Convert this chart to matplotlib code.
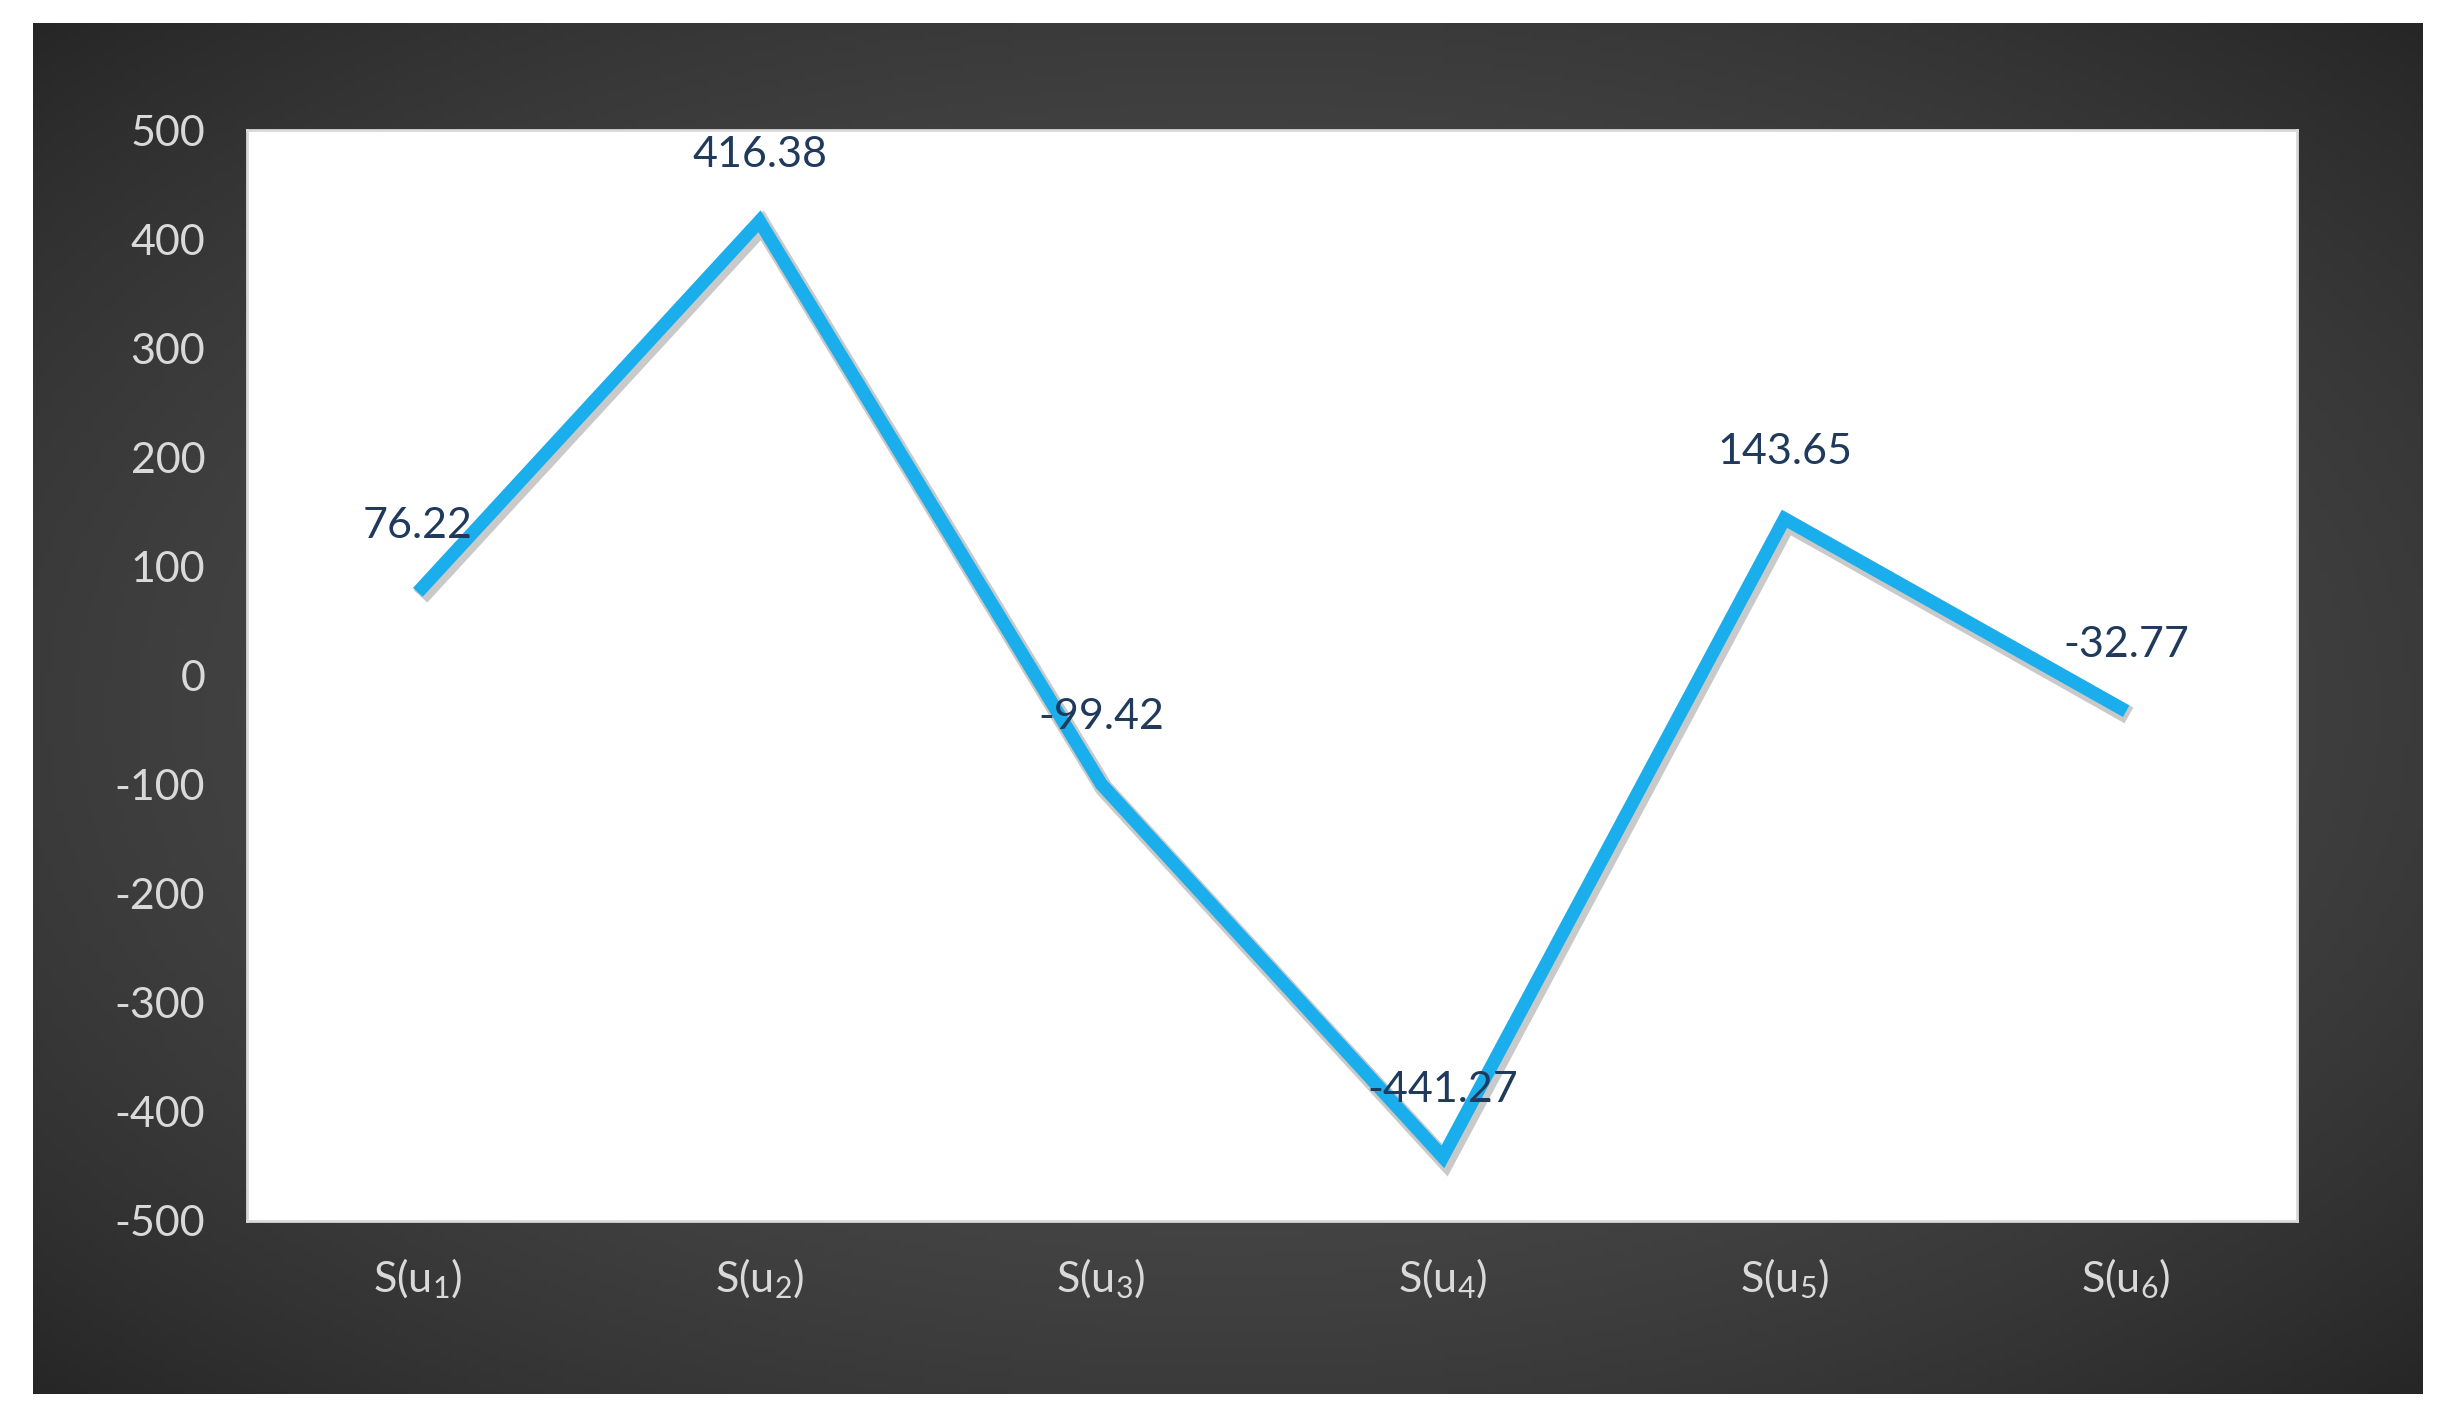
import numpy as np
import matplotlib
matplotlib.use("Agg")
import matplotlib.pyplot as plt
import matplotlib.patheffects as pe

# chart values
labels = [r"S(u$_{1}$)", r"S(u$_{2}$)", r"S(u$_{3}$)", r"S(u$_{4}$)", r"S(u$_{5}$)", r"S(u$_{6}$)"]
values = [76.22, 416.38, -99.42, -441.27, 143.65, -32.77]
yticks = [500, 400, 300, 200, 100, 0, -100, -200, -300, -400, -500]

W, H = 2457, 1423
plt.rcParams["mathtext.default"] = "regular"
plt.rcParams["font.family"] = ["Lato", "DejaVu Sans"]

fig = plt.figure(figsize=(W / 100, H / 100), dpi=100, facecolor="white")

# dark radial gradient panel
bg = fig.add_axes([33 / W, 1 - 1394 / H, (2423 - 33) / W, (1394 - 23) / H])
gx, gy = np.meshgrid(np.linspace(-1, 1, 400), np.linspace(-1, 1, 240))
r = np.clip(np.sqrt(gx ** 2 + gy ** 2) / np.sqrt(2), 0, 1)
shade = 0.31 - 0.16 * r ** 2
bg.imshow(np.dstack([shade] * 3), aspect="auto", extent=[0, 1, 0, 1])
bg.set_axis_off()

# white plot area
ax = fig.add_axes([247 / W, 1 - 1221 / H, (2297 - 247) / W, (1221 - 130) / H])
ax.set_facecolor("white")
for s in ax.spines.values():
    s.set_color("#d9d9d9")
    s.set_linewidth(2)

x = np.arange(len(values))
ax.plot(x, values, color="#1aafec", lw=9.5, solid_joinstyle="miter", solid_capstyle="butt",
        path_effects=[pe.SimpleLineShadow(offset=(2, -3), shadow_color="#666666", alpha=0.35, linewidth=13),
                      pe.Normal()], zorder=3)

for xi, v in zip(x, values):
    ax.annotate(f"{v:.2f}", (xi, v), xytext=(0, 48), textcoords="offset points",
                ha="center", va="center", fontsize=31, color="#1f3a5c", zorder=4)

ax.set_xlim(-0.5, len(values) - 0.5)
ax.set_ylim(-500, 500)
ax.set_yticks(yticks)
ax.set_yticklabels([str(t) for t in yticks])
ax.set_xticks(x)
ax.set_xticklabels(labels)
ax.tick_params(axis="both", length=0, colors="#d9d9d9", labelsize=31)
ax.tick_params(axis="y", pad=30)
ax.tick_params(axis="x", pad=26)

fig.savefig("out.png", dpi=100, facecolor="white")
